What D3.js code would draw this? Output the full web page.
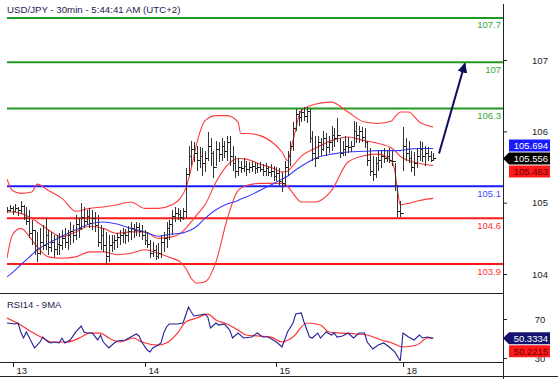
<!DOCTYPE html>
<html>
<head>
<meta charset="utf-8">
<script src="https://cdn.jsdelivr.net/npm/d3@7"></script>
<style>
  body { margin: 0; background: #fff; }
  svg { display: block; font-family: "Liberation Sans", Arial, sans-serif; }
</style>
</head>
<body>
<svg id="chart" width="558" height="379"></svg>
<script>
// ---- data ----
const title = 'USD/JPY - 30min - 5:44:41 AM (UTC+2)';

// 30 min bars, index 0 = first bar on screen
const barHigh = [104.94,104.97,104.95,104.98,104.94,105.03,104.97,104.94,104.90,104.76,
  104.62,104.59,104.64,104.69,104.78,104.62,104.59,104.55,104.54,104.58,
  104.62,104.64,104.62,104.73,104.69,104.83,104.78,104.99,104.94,104.90,
  104.92,104.90,104.87,104.83,104.69,104.64,104.59,104.55,104.55,104.54,
  104.58,104.62,104.64,104.63,104.67,104.73,104.70,104.73,104.71,104.69,
  104.62,104.59,104.48,104.45,104.41,104.43,104.55,104.59,104.73,104.76,
  104.90,104.94,104.92,104.90,104.92,105.48,105.80,105.87,105.85,105.80,
  105.78,105.76,105.73,105.99,105.90,105.73,105.87,105.85,105.90,105.87,
  105.94,105.94,105.80,105.66,105.62,105.59,105.62,105.59,105.57,105.59,
  105.57,105.55,105.57,105.54,105.55,105.52,105.54,105.52,105.50,105.48,
  105.43,105.59,105.73,105.87,106.13,106.32,106.29,106.32,106.34,106.34,
  106.32,106.01,105.94,105.94,105.90,106.01,105.97,105.94,106.08,106.04,
  106.18,105.90,105.87,105.94,105.92,105.87,106.15,106.13,106.08,106.06,
  106.04,105.87,105.76,105.66,105.64,105.73,105.73,105.76,105.73,105.76,
  105.73,105.55,105.24,105.03,106.06,105.90,105.87,105.73,105.71,105.76,
  105.87,105.85,105.80,105.78,105.73,105.69];
const barLow = [104.85,104.87,104.83,104.87,104.82,104.84,104.76,104.69,104.50,104.41,
  104.27,104.17,104.27,104.34,104.34,104.27,104.31,104.24,104.27,104.26,
  104.34,104.36,104.34,104.41,104.43,104.48,104.50,104.62,104.64,104.69,
  104.64,104.62,104.59,104.38,104.34,104.31,104.13,104.17,104.31,104.34,
  104.36,104.41,104.43,104.42,104.45,104.48,104.50,104.53,104.52,104.48,
  104.41,104.36,104.22,104.24,104.20,104.21,104.22,104.31,104.36,104.48,
  104.55,104.73,104.76,104.73,104.76,104.78,105.38,105.52,105.57,105.45,
  105.48,105.38,105.43,105.59,105.52,105.34,105.52,105.57,105.59,105.62,
  105.59,105.52,105.45,105.34,105.38,105.41,105.43,105.38,105.41,105.43,
  105.40,105.41,105.43,105.38,105.38,105.37,105.36,105.31,105.31,105.24,
  105.15,105.24,105.38,105.52,105.73,106.01,106.08,106.13,106.15,106.11,
  105.83,105.59,105.50,105.62,105.65,105.73,105.66,105.69,105.73,105.78,
  105.85,105.62,105.65,105.66,105.69,105.71,105.80,105.83,105.83,105.85,
  105.76,105.52,105.38,105.31,105.34,105.45,105.48,105.55,105.57,105.55,
  105.52,105.17,104.80,104.80,105.45,105.59,105.55,105.43,105.38,105.48,
  105.59,105.57,105.52,105.59,105.57,105.59];
const barClose = [104.90,104.92,104.88,104.93,104.90,104.96,104.80,104.74,104.58,104.62,
  104.33,104.30,104.45,104.40,104.55,104.38,104.45,104.35,104.42,104.40,
  104.50,104.45,104.55,104.60,104.55,104.70,104.65,104.80,104.75,104.82,
  104.72,104.78,104.68,104.45,104.55,104.40,104.25,104.40,104.45,104.48,
  104.52,104.55,104.58,104.55,104.60,104.65,104.62,104.66,104.60,104.55,
  104.48,104.42,104.30,104.33,104.25,104.30,104.45,104.50,104.65,104.70,
  104.82,104.85,104.84,104.80,104.88,105.40,105.65,105.75,105.70,105.60,
  105.65,105.55,105.62,105.80,105.70,105.50,105.75,105.68,105.80,105.72,
  105.85,105.65,105.55,105.45,105.50,105.48,105.52,105.47,105.50,105.52,
  105.48,105.50,105.47,105.45,105.48,105.43,105.45,105.38,105.42,105.30,
  105.28,105.50,105.65,105.80,106.05,106.25,106.20,106.27,106.22,106.28,
  105.90,105.70,105.62,105.85,105.75,105.90,105.78,105.85,105.95,105.90,
  105.95,105.70,105.75,105.80,105.78,105.80,106.00,105.95,106.00,105.92,
  105.85,105.60,105.45,105.40,105.55,105.60,105.65,105.62,105.66,105.60,
  105.58,105.25,104.88,104.85,105.80,105.70,105.62,105.50,105.55,105.65,
  105.75,105.65,105.70,105.66,105.60,105.62];

// bollinger bands and moving average, read at these bar indices
const bandIdx = [0,2,5,9,11,15,20,25,30,35,40,45,50,55,60,63,65,67,69,72,76,80,84,85,87,92,97,100,102,104,107,112,118,124,130,135,140,141,142,143,146,150,155];
const bandUpper = [105.33,105.17,105.13,105.15,105.26,105.17,105.06,104.88,104.92,104.94,104.97,105.01,104.92,104.92,104.97,105.06,105.20,105.48,105.83,106.15,106.22,106.22,106.13,105.97,105.97,105.94,105.83,105.71,105.59,105.87,106.29,106.38,106.41,106.27,106.13,106.11,106.15,106.20,106.24,106.27,106.27,106.13,106.06];
const bandMid = [104.87,104.87,104.85,104.78,104.73,104.62,104.52,104.59,104.67,104.64,104.57,104.59,104.59,104.50,104.52,104.57,104.64,104.73,104.83,104.97,105.29,105.52,105.62,105.62,105.61,105.54,105.48,105.43,105.44,105.52,105.65,105.76,105.87,105.92,105.87,105.83,105.76,105.73,105.69,105.65,105.59,105.55,105.52];
const bandLower = [104.22,104.55,104.64,104.48,104.38,104.24,104.22,104.24,104.31,104.31,104.27,104.29,104.34,104.29,104.22,104.17,104.08,103.94,103.87,103.89,104.17,104.76,105.17,105.20,105.24,105.27,105.27,105.27,105.23,105.13,105.01,105.01,105.17,105.57,105.66,105.68,105.57,105.45,105.17,104.97,104.99,105.03,105.06];
const maBlue = [103.96,104.02,104.13,104.27,104.34,104.43,104.53,104.62,104.70,104.73,104.70,104.64,104.59,104.53,104.56,104.57,104.59,104.62,104.67,104.78,104.90,104.98,105.03,105.05,105.08,105.17,105.27,105.33,105.37,105.43,105.51,105.62,105.68,105.71,105.72,105.73,105.73,105.73,105.73,105.73,105.75,105.76,105.76];

// support / resistance levels (drawn value, printed label)
const levelValue = [107.59,106.97,106.32,105.23,104.78,104.14];
const levelLabel = ['107.7','107','106.3','105.1','104.6','103.9'];
const levelKind = ['res','res','res','pivot','sup','sup'];

// forecast arrow (bar index, price)
const arrowFrom = [157.1, 105.69];
const arrowTo = [166.5, 106.95];

const priceTicks = [104, 105, 106, 107];
const priceTags = ['105.694', '105.556', '105.463'];

// RSI 14 and its 9 period average
const rsiIdx = [0,3,4,5,6,7,8,10,12,13,15,16,17,19,20,21,23,25,27,28,29,31,33,34,35,37,39,40,43,45,47,48,49,51,52,53,55,56,57,58,59,62,64,65,66,67,68,70,72,73,74,76,77,79,81,82,84,86,89,91,93,95,98,100,102,104,105,107,108,110,111,113,114,116,118,119,120,122,124,126,128,130,131,133,135,137,139,141,143,144,146,148,150,151,153,155];
const rsiVal = [65.9,64.9,65.9,56.7,50.5,56.7,51.5,40.3,46.4,51.5,46.4,45.4,46.4,45.4,50.5,45.4,48.5,56.7,62.8,56.7,55.6,55.6,48.5,53.6,46.4,40.3,45.4,47.4,48.5,51.5,54.6,52.6,46.4,38.2,36.2,40.3,43.3,45.4,55.6,61.8,64.9,64.9,65.9,74.1,82.3,77.2,73.1,74.1,75.1,72.1,60.8,65.9,63.8,64.9,58.7,50.5,55.6,50.5,51.5,55.6,51.5,51.5,46.4,41.3,56.7,65.9,75.1,76.2,66.9,51.5,50.5,55.6,50.5,56.7,53.6,55.6,51.5,52.6,55.6,50.5,55.6,55.6,46.4,39.2,43.3,45.4,41.3,36.2,26.9,55.6,51.5,48.5,53.6,50.5,51.5,50.3];
const rsiMaIdx = [0,5,9,13,16,22,27,30,34,37,41,46,49,55,58,62,65,69,73,76,80,84,87,91,96,100,104,109,114,117,122,127,131,136,140,144,149,153,155];
const rsiMaVal = [71.0,63.8,56.7,50.5,46.4,46.4,51.5,55.6,55.6,50.5,46.4,50.5,46.4,43.3,45.4,55.6,66.9,71.0,75.1,69.0,64.9,58.7,53.6,52.6,51.5,46.4,51.5,65.9,63.8,56.7,55.6,54.6,53.6,48.5,45.4,41.3,43.3,50.5,50.2];
const rsiTicks = [30, 70];
const rsiTags = ['50.3334', '50.2215'];

// day separators
const dayIdx = [2, 50, 98, 144];
const dayLabel = ['13', '14', '15', '18'];

// ---- drawing ----
const svg = d3.select('#chart');
const axisX = 503;

const x = d3.scaleLinear().domain([0, 180]).range([7, 502]);
const y = d3.scaleLinear().domain([104, 107]).range([274, 60]);
const yr = d3.scaleLinear().domain([30, 70]).range([358, 319]);

const levelColor = { res: '#1e9a1e', pivot: '#1a1aff', sup: '#ff1a1a' };
const levelText = { res: '#33a833', pivot: '#4646ff', sup: '#ff3030' };

svg.append('clipPath').attr('id', 'pclip')
  .append('rect').attr('x', 7).attr('y', 4).attr('width', axisX - 7).attr('height', 288);
svg.append('clipPath').attr('id', 'rclip')
  .append('rect').attr('x', 7).attr('y', 294).attr('width', axisX - 7).attr('height', 67);

const price = svg.append('g').attr('clip-path', 'url(#pclip)');

// levels
levelValue.forEach((v, i) => {
  price.append('line')
    .attr('x1', 7).attr('x2', axisX)
    .attr('y1', y(v)).attr('y2', y(v))
    .attr('stroke', levelColor[levelKind[i]]).attr('stroke-width', 2);
});

const bandLine = vals => d3.line()
  .x((d, i) => x(bandIdx[i]))
  .y(d => y(d))
  .curve(d3.curveMonotoneX)(vals);

[bandUpper, bandMid, bandLower].forEach(vals => {
  price.append('path').attr('d', bandLine(vals))
    .attr('fill', 'none').attr('stroke', '#ff3a3a').attr('stroke-width', 1.1);
});
price.append('path').attr('d', bandLine(maBlue))
  .attr('fill', 'none').attr('stroke', '#3a3aff').attr('stroke-width', 1.1);

// OHLC bars
const bars = price.append('g').attr('stroke', '#333').attr('stroke-width', 1).attr('shape-rendering', 'crispEdges');
barHigh.forEach((h, i) => {
  const bx = Math.round(x(i)) + 0.5;
  const open = i > 0 ? barClose[i - 1] : barClose[i];
  bars.append('line').attr('x1', bx).attr('x2', bx).attr('y1', y(h)).attr('y2', y(barLow[i]));
  bars.append('line').attr('x1', bx - 2).attr('x2', bx).attr('y1', Math.round(y(open)) + 0.5).attr('y2', Math.round(y(open)) + 0.5);
  bars.append('line').attr('x1', bx).attr('x2', bx + 2).attr('y1', Math.round(y(barClose[i])) + 0.5).attr('y2', Math.round(y(barClose[i])) + 0.5).attr('stroke', '#000');
});

// level labels
levelValue.forEach((v, i) => {
  svg.append('text').attr('x', 501).attr('y', y(v) + 10.5)
    .attr('text-anchor', 'end').attr('font-size', 9.5)
    .attr('fill', levelText[levelKind[i]]).text(levelLabel[i]);
});

// forecast arrow
svg.append('defs').append('marker').attr('id', 'ah')
  .attr('viewBox', '0 0 10 10').attr('refX', 9).attr('refY', 5)
  .attr('markerWidth', 10).attr('markerHeight', 10).attr('markerUnits', 'userSpaceOnUse')
  .attr('orient', 'auto')
  .append('path').attr('d', 'M0,0 L10,5 L0,10 z').attr('fill', '#0c0c5e');
svg.append('line')
  .attr('x1', x(arrowFrom[0])).attr('y1', y(arrowFrom[1]))
  .attr('x2', x(arrowTo[0])).attr('y2', y(arrowTo[1]))
  .attr('stroke', '#0c0c5e').attr('stroke-width', 2)
  .attr('marker-end', 'url(#ah)');

// title
svg.append('text').attr('x', 7).attr('y', 13).attr('font-size', 9.7)
  .attr('fill', '#1c1c50').text(title);

// RSI panel
const rsiG = svg.append('g').attr('clip-path', 'url(#rclip)');
rsiG.append('path')
  .attr('d', d3.line().x((d, i) => x(rsiMaIdx[i])).y(d => yr(d)).curve(d3.curveMonotoneX)(rsiMaVal))
  .attr('fill', 'none').attr('stroke', '#ff3030').attr('stroke-width', 1.2);
rsiG.append('path')
  .attr('d', d3.line().x((d, i) => x(rsiIdx[i])).y(d => yr(d))(rsiVal))
  .attr('fill', 'none').attr('stroke', '#22229a').attr('stroke-width', 1.1);

svg.append('text').attr('x', 7).attr('y', 308).attr('font-size', 9.5)
  .attr('fill', '#1c1c50').text('RSI14 - 9MA');

// frame lines
const frame = svg.append('g').attr('stroke', '#222').attr('stroke-width', 1).attr('shape-rendering', 'crispEdges');
frame.append('line').attr('x1', axisX + 0.5).attr('x2', axisX + 0.5).attr('y1', 4).attr('y2', 379);
frame.append('line').attr('x1', 0).attr('x2', axisX).attr('y1', 293.5).attr('y2', 293.5);
frame.append('line').attr('x1', 0).attr('x2', axisX).attr('y1', 362.5).attr('y2', 362.5);
frame.append('line').attr('x1', 0).attr('x2', 558).attr('y1', 376.5).attr('y2', 376.5);

// price axis
const pAxis = svg.append('g').attr('transform', `translate(${axisX},0)`)
  .call(d3.axisRight(y).tickValues(priceTicks).tickSize(4).tickFormat(d3.format('d')));
pAxis.select('.domain').remove();
pAxis.selectAll('line').attr('stroke', '#222');
pAxis.selectAll('text').attr('x', 37).attr('text-anchor', 'middle')
  .attr('font-size', 9.5).attr('font-family', '"Liberation Sans", Arial, sans-serif').attr('fill', '#222');

const rAxis = svg.append('g').attr('transform', `translate(${axisX},0)`)
  .call(d3.axisRight(yr).tickValues(rsiTicks).tickSize(4));
rAxis.select('.domain').remove();
rAxis.selectAll('line').attr('stroke', '#222');
rAxis.selectAll('text').attr('x', 37).attr('text-anchor', 'middle')
  .attr('font-size', 9.5).attr('font-family', '"Liberation Sans", Arial, sans-serif').attr('fill', '#222');

// value tags
function tag(cy, text, fill, color, pointer) {
  const g = svg.append('g');
  const pts = pointer
    ? [[axisX, cy], [509, cy - 6], [550, cy - 6], [550, cy + 6], [509, cy + 6]]
    : [[509, cy - 6], [550, cy - 6], [550, cy + 6], [509, cy + 6]];
  g.append('polygon').attr('points', pts.map(p => p.join(',')).join(' ')).attr('fill', fill);
  g.append('text').attr('x', 548).attr('y', cy + 3.5).attr('text-anchor', 'end')
    .attr('font-size', 9.5).attr('fill', color).text(text);
}
const lastY = y(barClose[barClose.length - 1]);
tag(lastY - 13, priceTags[0], '#1a1aff', '#fff', false);
tag(lastY + 13, priceTags[2], '#ff1a1a', '#600', false);
tag(lastY, priceTags[1], '#000', '#fff', true);

const lastR = yr(rsiVal[rsiVal.length - 1]);
tag(lastR + 13, rsiTags[1], '#ff1a1a', '#600', false);
tag(lastR, rsiTags[0], '#14146e', '#fff', true);

// day ticks
dayIdx.forEach((d, i) => {
  const dx = Math.round(x(d)) + 0.5;
  svg.append('line').attr('x1', dx).attr('x2', dx).attr('y1', 362).attr('y2', 367)
    .attr('stroke', '#222').attr('shape-rendering', 'crispEdges');
  svg.append('text').attr('x', dx + 3).attr('y', 374).attr('font-size', 9.5)
    .attr('fill', '#222').text(dayLabel[i]);
});
</script>
</body>
</html>
